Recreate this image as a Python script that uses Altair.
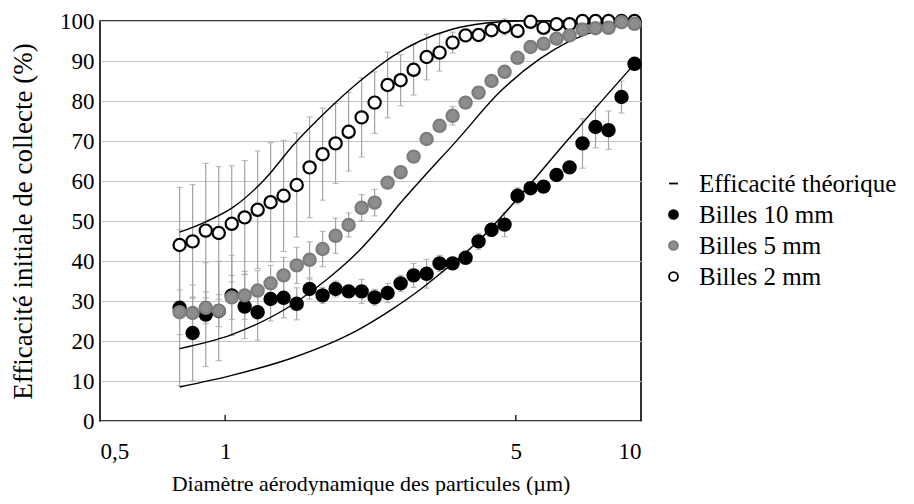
import altair as alt
import pandas as pd

# Aerodynamic diameters (µm) of the measured channels
DIAM = [0.777, 0.835, 0.898, 0.965, 1.037, 1.114, 1.197, 1.286, 1.382, 1.486,
        1.596, 1.715, 1.843, 1.981, 2.129, 2.288, 2.458, 2.642, 2.839, 3.051,
        3.278, 3.523, 3.786, 4.068, 4.371, 4.698, 5.048, 5.425, 5.829, 6.264,
        6.732, 7.234, 7.774, 8.354, 8.977, 9.647]

# Measured efficiencies (%) and error half-widths
B10 = [28.3, 22.0, 26.6, 27.5, 31.4, 28.6, 27.2, 30.5, 30.8, 29.3, 33.0, 31.4,
       33.0, 32.4, 32.4, 30.9, 32.0, 34.4, 36.4, 36.8, 39.4, 39.4, 40.8, 44.9,
       47.8, 49.1, 56.3, 58.2, 58.6, 61.5, 63.4, 69.4, 73.5, 72.7, 81.0, 89.3]
E10 = [19.5, 12.0, 13.0, 12.4, 10.0, 8.0, 7.0, 5.5, 5.0, 4.0, 2.5, 2.0, 2.0,
       1.5, 3.0, 2.0, 2.4, 2.0, 3.0, 3.6, 2.0, 1.5, 1.5, 2.0, 1.5, 3.0, 2.0,
       1.5, 1.0, 1.0, 1.5, 6.2, 5.2, 4.8, 4.0, 1.0]

B5 = [27.2, 27.0, 28.3, 27.6, 30.9, 31.4, 32.6, 34.4, 36.4, 38.9, 40.3, 43.0,
      46.3, 49.0, 53.3, 54.6, 59.6, 62.2, 66.1, 70.5, 73.8, 76.3, 79.6, 82.1,
      85.0, 87.3, 90.8, 93.5, 94.3, 95.6, 96.4, 97.9, 98.2, 98.3, 99.7, 99.3]
E5 = [5.6, 4.0, 4.0, 4.0, 5.5, 6.0, 5.0, 4.5, 4.5, 4.5, 4.5, 4.4, 4.4, 3.0,
      3.3, 3.3, 1.0, 1.0, 1.0, 1.0, 1.5, 2.3, 1.0, 1.0, 1.0, 1.0, 1.0, 1.0,
      1.0, 1.0, 1.0, 1.0, 1.0, 1.0, 1.0, 1.0]

B2 = [44.0, 44.9, 47.6, 47.0, 49.3, 50.9, 52.8, 54.7, 56.3, 59.0, 63.4, 66.7,
      69.4, 72.3, 75.9, 79.6, 84.0, 85.2, 87.8, 91.0, 92.1, 94.6, 96.4, 96.5,
      97.7, 98.5, 97.5, 99.8, 98.3, 99.2, 99.2, 100, 100, 100, 100, 100]
E2 = [14.4, 14.2, 16.8, 16.6, 14.5, 14.2, 14.7, 14.9, 13.9, 13.0, 12.6, 11.5,
      10.0, 9.8, 9.9, 7.7, 8.2, 6.4, 6.3, 5.7, 4.6, 2.6, 1.5, 1.5, 1.3, 2.0,
      1.5, 1.0, 1.0, 0.8, 0.8, 0.5, 0.5, 0.5, 0.5, 0.5]

# Theoretical efficiency curves
T2_D = [0.777, 0.898, 1.037, 1.247, 1.459, 1.754, 2.110, 2.537, 2.941, 3.531, 4.255, 5.117, 9.647]
T2_V = [47.2, 49.8, 53.2, 60.5, 69.0, 77.5, 85.0, 91.3, 95.0, 98.0, 99.5, 100, 100]
T5_D = [0.777, 1.037, 1.472, 1.786, 2.110, 2.400, 2.630, 2.941, 3.605, 4.580, 5.720, 6.630, 7.980, 9.647]
T5_V = [18.1, 21.6, 29.5, 36.0, 42.8, 49.3, 54.3, 60.0, 70.1, 82.3, 90.6, 94.6, 97.8, 99.3]
T10_D = [0.777, 1.037, 1.472, 2.072, 2.491, 2.941, 3.286, 4.100, 5.020, 6.630, 7.980, 9.647]
T10_V = [8.5, 11.4, 16.0, 22.6, 27.6, 32.8, 36.8, 45.4, 55.3, 70.0, 79.6, 89.3]

SERIES = ["Efficacité théorique", "Billes 10 mm", "Billes 5 mm", "Billes 2 mm"]
X_TICKS = [0.5, 1, 5, 10]
X_INNER_TICKS = [1, 5]
Y_TICKS = list(range(0, 101, 10))

FONT = "Liberation Serif, Times New Roman, serif"

# ---- tables ----
pts_rows = []
for name, vals, errs in [("Billes 2 mm", B2, E2), ("Billes 10 mm", B10, E10), ("Billes 5 mm", B5, E5)]:
    for d, v, e in zip(DIAM, vals, errs):
        pts_rows.append({"d": d, "v": v, "lo": max(v - e, 0), "hi": v + e, "serie": name})
pts = pd.DataFrame(pts_rows)

caps = pd.concat([
    pts[["d", "lo"]].rename(columns={"lo": "v"}),
    pts[["d", "hi"]].rename(columns={"hi": "v"}),
])

curve_rows = []
for name, ds, vs in [("2", T2_D, T2_V), ("5", T5_D, T5_V), ("10", T10_D, T10_V)]:
    for d, v in zip(ds, vs):
        curve_rows.append({"d": d, "v": v, "courbe": name})
curves = pd.DataFrame(curve_rows)

inner = pd.DataFrame({"d": X_INNER_TICKS})

# ---- shared encodings ----
xscale = alt.Scale(type="log", domain=[0.5, 10], nice=False)
yscale = alt.Scale(domain=[0, 100], nice=False)
xaxis = alt.Axis(values=X_TICKS, labelExpr="replace(format(datum.value, '~g'), '.', ',')",
                 title="Diamètre aérodynamique des particules (µm)", grid=False,
                 ticks=False, domain=False, labelPadding=19, titlePadding=10,
                 labelFont=FONT, titleFont=FONT, labelColor="black", titleColor="black",
                 titleFontWeight="normal", labelFontSize=23, titleFontSize=22)
yaxis = alt.Axis(values=Y_TICKS, title="Efficacité initiale de collecte (%)", grid=True,
                 gridColor="#c4c4c4", gridWidth=1.2, ticks=False, domain=False,
                 labelFont=FONT, titleFont=FONT, labelColor="black", titleColor="black",
                 titleFontWeight="normal",
                 labelPadding=6, titlePadding=22, labelFontSize=23, titleFontSize=27)

X = alt.X("d:Q", scale=xscale, axis=xaxis)

legend = alt.Legend(title=None, orient="none", legendX=561, legendY=150,
                    labelFont=FONT, labelFontSize=25, labelColor="black", labelLimit=400,
                    symbolSize=80, symbolStrokeWidth=1.8, rowPadding=5, labelOffset=13)

err_rules = alt.Chart(pts).mark_rule(color="#a3a3a3", strokeWidth=1.2).encode(
    x=X, y=alt.Y("lo:Q", scale=yscale, axis=yaxis), y2="hi:Q")

err_caps = alt.Chart(caps).mark_tick(color="#a3a3a3", orient="horizontal", size=6,
                                     thickness=1.2).encode(
    x=X, y=alt.Y("v:Q", scale=yscale, axis=yaxis))

lines = alt.Chart(curves).mark_line(color="black", strokeWidth=1.4, interpolate="monotone").encode(
    x=X, y=alt.Y("v:Q", scale=yscale, axis=yaxis), detail="courbe:N")

points = alt.Chart(pts).mark_point(filled=True, size=150, strokeWidth=2.2, opacity=1).encode(
    x=X, y=alt.Y("v:Q", scale=yscale, axis=yaxis),
    shape=alt.Shape("serie:N", scale=alt.Scale(domain=SERIES,
                    range=["M-1,0L1,0", "circle", "circle", "circle"]), legend=legend),
    fill=alt.Fill("serie:N", scale=alt.Scale(domain=SERIES,
                  range=["black", "black", "#8d8d8d", "white"]), legend=legend),
    stroke=alt.Stroke("serie:N", scale=alt.Scale(domain=SERIES,
                      range=["black", "black", "#7c7c7c", "black"]), legend=legend),
)

ticks_in = alt.Chart(inner).mark_rule(color="black", strokeWidth=1.3).encode(
    x=X, y=alt.value(400), y2=alt.value(394))

chart = alt.layer(err_rules, err_caps, lines, points, ticks_in).properties(
    width=541, height=400,
    autosize=alt.AutoSizeParams(type="none"),
    padding={"left": 92, "top": 13, "right": 262, "bottom": 74},
).configure(
    background="white", font=FONT
).configure_view(stroke="black", strokeWidth=1.6).configure_axis(
    labelFont=FONT, titleFont=FONT).configure_legend(labelFont=FONT)

chart.save("out.html", embed_options={"renderer": "svg", "actions": False})
